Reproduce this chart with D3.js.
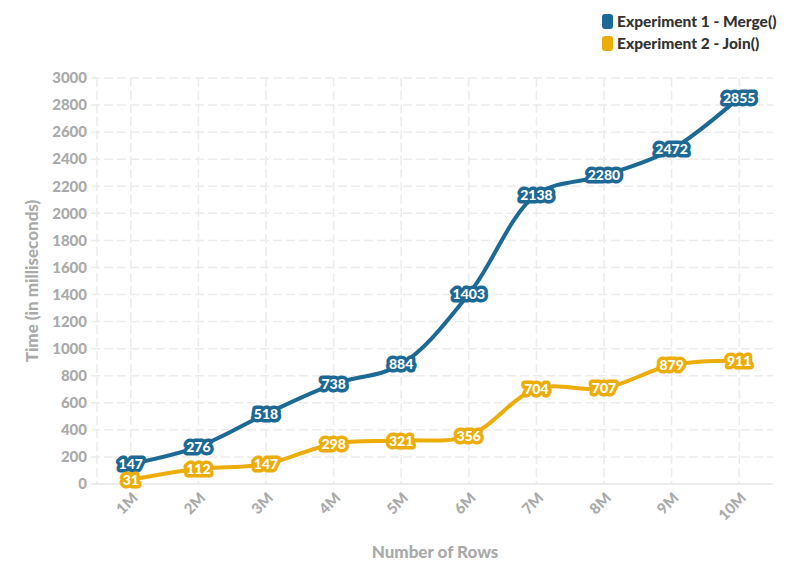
<!DOCTYPE html>
<html>
<head>
<meta charset="utf-8">
<script src="https://cdn.jsdelivr.net/npm/d3@7"></script>
<style>
  body { margin: 0; background: #fff; }
  svg { font-family: Lato, "Open Sans", sans-serif; font-weight: 900; }
  .grid line { stroke: #ececec; stroke-width: 1.5; stroke-dasharray: 9,4; }
  .tick-label { fill: #aaaaaa; font-size: 15px; }
  .axis-title { fill: #aaaaaa; font-size: 17px; }
  .legend text { fill: #333; font-size: 15.5px; }
  .point-label { fill: #fff; font-size: 14px; stroke-width: 7px; stroke-linejoin: round; paint-order: stroke; }
</style>
</head>
<body>
<div id="chart"></div>
<script>
const categories = ["1M", "2M", "3M", "4M", "5M", "6M", "7M", "8M", "9M", "10M"];
const mergeTimes = [147, 276, 518, 738, 884, 1403, 2138, 2280, 2472, 2855];
const joinTimes = [31, 112, 147, 298, 321, 356, 704, 707, 879, 911];
const seriesNames = ["Experiment 1 - Merge()", "Experiment 2 - Join()"];
const seriesColors = ["#1d6996", "#edad08"];
const yTicks = [0, 200, 400, 600, 800, 1000, 1200, 1400, 1600, 1800, 2000, 2200, 2400, 2600, 2800, 3000];

const svgWidth = 796, svgHeight = 575;
const margin = {top: 78, right: 23, bottom: 91, left: 97},
      width = svgWidth - margin.left - margin.right,
      height = svgHeight - margin.top - margin.bottom;

const svg = d3.select("#chart").append("svg")
    .attr("width", svgWidth)
    .attr("height", svgHeight);

const g = svg.append("g")
    .attr("transform", "translate(" + margin.left + "," + margin.top + ")");

// scales
const x = d3.scaleBand().domain(categories).range([0, width]);
const y = d3.scaleLinear().domain([0, 3000]).range([height, 0]);
const cx = d => x(d) + x.bandwidth() / 2;

// grid
const grid = g.append("g").attr("class", "grid");
grid.selectAll(".hline").data(yTicks.filter(d => d > 0)).enter().append("line")
    .attr("x1", -6).attr("x2", width)
    .attr("y1", d => y(d)).attr("y2", d => y(d));
grid.selectAll(".vline").data(categories).enter().append("line")
    .attr("x1", d => cx(d)).attr("x2", d => cx(d))
    .attr("y1", 0).attr("y2", height);
grid.append("line").attr("x1", 0).attr("x2", 0).attr("y1", 0).attr("y2", height);

// zero line
g.append("line")
    .attr("x1", -6).attr("x2", width)
    .attr("y1", y(0)).attr("y2", y(0))
    .attr("stroke", "#e6e6e6").attr("stroke-width", 1.5);

// y tick labels
g.selectAll(".ytick").data(yTicks).enter().append("text")
    .attr("class", "tick-label")
    .attr("x", -10)
    .attr("y", d => y(d))
    .attr("dy", "0.35em")
    .attr("text-anchor", "end")
    .text(d => d);

// x tick labels
g.selectAll(".xtick").data(categories).enter().append("text")
    .attr("class", "tick-label")
    .attr("text-anchor", "end")
    .attr("transform", d => "translate(" + (cx(d) + 8) + "," + (height + 15) + ") rotate(-45)")
    .text(d => d);

// axis titles
svg.append("text")
    .attr("class", "axis-title")
    .attr("x", margin.left + width / 2)
    .attr("y", 558)
    .attr("text-anchor", "middle")
    .text("Number of Rows");

svg.append("text")
    .attr("class", "axis-title")
    .attr("transform", "translate(38," + (margin.top + height / 2) + ") rotate(-90)")
    .attr("text-anchor", "middle")
    .text("Time (in milliseconds)");

// lines
const series = [mergeTimes, joinTimes];
const line = d3.line()
    .x((d, i) => cx(categories[i]))
    .y(d => y(d))
    .curve(d3.curveCatmullRom);

series.forEach((values, s) => {
    g.append("path")
        .datum(values)
        .attr("fill", "none")
        .attr("stroke", seriesColors[s])
        .attr("stroke-width", 4)
        .attr("d", line);
});

series.forEach((values, s) => {
    g.selectAll(".lbl" + s).data(values).enter().append("text")
        .attr("class", "point-label")
        .attr("stroke", seriesColors[s])
        .attr("x", (d, i) => cx(categories[i]))
        .attr("y", d => y(d))
        .attr("dy", "0.36em")
        .attr("text-anchor", "middle")
        .text(d => d);
});

// legend
const legend = svg.append("g").attr("class", "legend")
    .attr("transform", "translate(602,14)");
seriesNames.forEach((name, i) => {
    const row = legend.append("g").attr("transform", "translate(0," + (i * 22) + ")");
    row.append("rect")
        .attr("width", 11).attr("height", 15)
        .attr("rx", 3).attr("ry", 3)
        .attr("fill", seriesColors[i]);
    row.append("text")
        .attr("x", 15).attr("y", 13)
        .text(name);
});
</script>
</body>
</html>
